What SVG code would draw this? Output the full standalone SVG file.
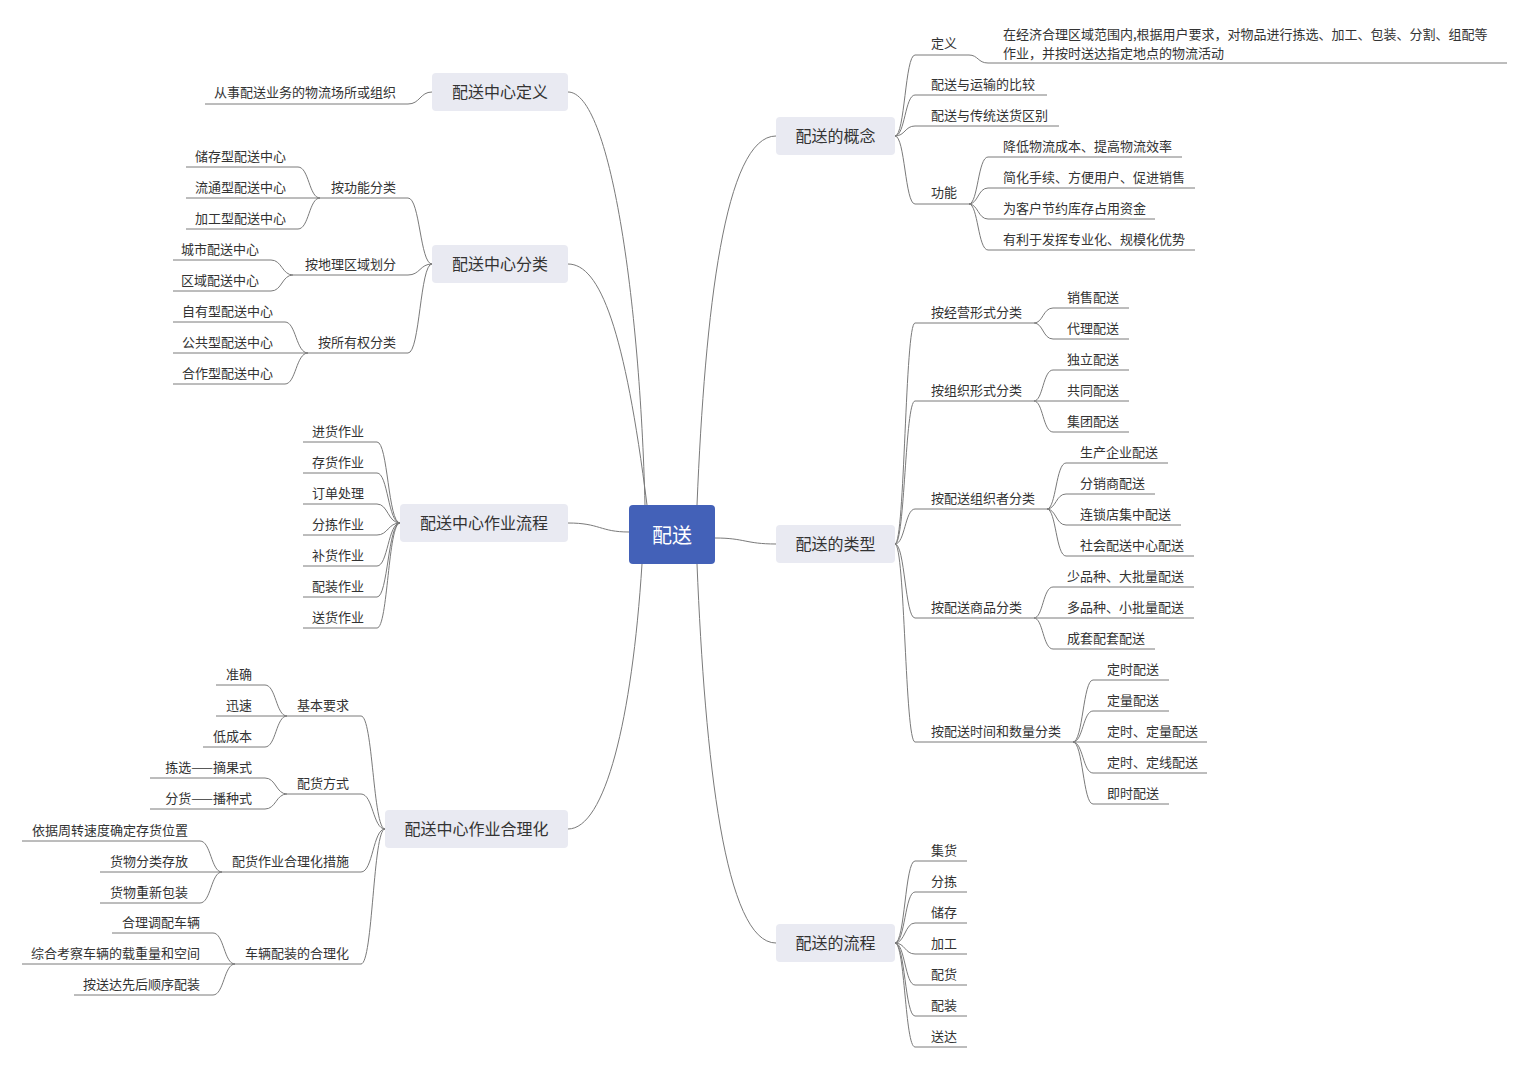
<svg xmlns="http://www.w3.org/2000/svg" width="1528" height="1069" viewBox="0 0 1528 1069">
<style>
text{font-family:"Noto Sans CJK SC","Noto Sans",sans-serif;fill:#333;dominant-baseline:central;transform:translateY(-1px)}
.t{font-size:13px}
.e{text-anchor:end}
.m{font-size:16px;text-anchor:middle}
.root{font-size:20px;text-anchor:middle;fill:#fff}
.box{fill:#E9EAF2}
.ul,.c path{fill:none;stroke:#7a7a7a;stroke-width:1}
</style>
<rect width="1528" height="1069" fill="#fff"/>
<g id="connectors" class="c">
<path d="M645,505 C640,300 610,92 568,92"/>
<path d="M647,505 C625,330 600,264 568,264"/>
<path d="M629,532 C600,532 600,523 568,523"/>
<path d="M642,564 C632,720 605,829 568,829"/>
<path d="M697,505 C705,310 725,136 776,136"/>
<path d="M715,538 C745,538 745,544 776,544"/>
<path d="M697,564 C705,760 725,943 776,943"/>
<path d="M895,136 C905,136 905,55 915,55"/>
<path d="M895,136 C905,136 905,95 915,95"/>
<path d="M895,136 C905,136 905,126 915,126"/>
<path d="M895,136 C905,136 905,204 915,204"/>
<path d="M969,55 C978,55 978,63 988,63"/>
<path d="M969,204 C978,204 978,157 988,157"/>
<path d="M969,204 C978,204 978,188 988,188"/>
<path d="M969,204 C978,204 978,219 988,219"/>
<path d="M969,204 C978,204 978,250 988,250"/>
<path d="M895,544 C905,544 905,323 915,323"/>
<path d="M895,544 C905,544 905,401 915,401"/>
<path d="M895,544 C905,544 905,509 915,509"/>
<path d="M895,544 C905,544 905,618 915,618"/>
<path d="M895,544 C905,544 905,742 915,742"/>
<path d="M1034,323 C1043,323 1043,308 1053,308"/>
<path d="M1034,323 C1043,323 1043,339 1053,339"/>
<path d="M1034,401 C1043,401 1043,370 1053,370"/>
<path d="M1034,401 L1053,401"/>
<path d="M1034,401 C1043,401 1043,432 1053,432"/>
<path d="M1047,509 C1056,509 1056,463 1066,463"/>
<path d="M1047,509 C1056,509 1056,494 1066,494"/>
<path d="M1047,509 C1056,509 1056,525 1066,525"/>
<path d="M1047,509 C1056,509 1056,556 1066,556"/>
<path d="M1034,618 C1043,618 1043,587 1053,587"/>
<path d="M1034,618 L1053,618"/>
<path d="M1034,618 C1043,618 1043,649 1053,649"/>
<path d="M1073,742 C1083,742 1083,680 1093,680"/>
<path d="M1073,742 C1083,742 1083,711 1093,711"/>
<path d="M1073,742 L1093,742"/>
<path d="M1073,742 C1083,742 1083,773 1093,773"/>
<path d="M1073,742 C1083,742 1083,804 1093,804"/>
<path d="M895,943 C905,943 905,861 915,861"/>
<path d="M895,943 C905,943 905,892 915,892"/>
<path d="M895,943 C905,943 905,923 915,923"/>
<path d="M895,943 C905,943 905,954 915,954"/>
<path d="M895,943 C905,943 905,985 915,985"/>
<path d="M895,943 C905,943 905,1016 915,1016"/>
<path d="M895,943 C905,943 905,1047 915,1047"/>
<path d="M432,92 C420,92 420,104 408,104"/>
<path d="M432,264 C420,264 420,198 408,198"/>
<path d="M432,264 C420,264 420,275 408,275"/>
<path d="M432,264 C420,264 420,353 408,353"/>
<path d="M320,198 C309,198 309,167 298,167"/>
<path d="M320,198 L298,198"/>
<path d="M320,198 C309,198 309,229 298,229"/>
<path d="M293,275 C282,275 282,260 271,260"/>
<path d="M293,275 C282,275 282,291 271,291"/>
<path d="M308,353 C296,353 296,322 285,322"/>
<path d="M308,353 L285,353"/>
<path d="M308,353 C296,353 296,384 285,384"/>
<path d="M400,523 C388,523 388,442 377,442"/>
<path d="M400,523 C388,523 388,473 377,473"/>
<path d="M400,523 C388,523 388,504 377,504"/>
<path d="M400,523 C388,523 388,535 377,535"/>
<path d="M400,523 C388,523 388,566 377,566"/>
<path d="M400,523 C388,523 388,597 377,597"/>
<path d="M400,523 C388,523 388,628 377,628"/>
<path d="M385,829 C373,829 373,716 361,716"/>
<path d="M385,829 C373,829 373,794 361,794"/>
<path d="M385,829 C373,829 373,872 361,872"/>
<path d="M385,829 C373,829 373,964 361,964"/>
<path d="M287,716 C276,716 276,685 265,685"/>
<path d="M287,716 L265,716"/>
<path d="M287,716 C276,716 276,747 265,747"/>
<path d="M287,794 C276,794 276,778 265,778"/>
<path d="M287,794 C276,794 276,809 265,809"/>
<path d="M222,872 C211,872 211,841 200,841"/>
<path d="M222,872 L200,872"/>
<path d="M222,872 C211,872 211,903 200,903"/>
<path d="M235,964 C224,964 224,933 213,933"/>
<path d="M235,964 L213,964"/>
<path d="M235,964 C224,964 224,995 213,995"/>
</g>

<g id="root"><rect x="629" y="505" width="86" height="59" rx="4" fill="#4361B8"/><text class="root" x="672" y="535">配送</text></g>

<g id="n-gainian"><rect class="box" x="776" y="117" width="119" height="38" rx="4"/><text class="m" x="835.5" y="136">配送的概念</text></g>
<g id="n-dingyi"><path class="ul" d="M915,55H969"/><text class="t" x="931" y="43">定义</text></g>
<g id="n-dingyi-text"><path class="ul" d="M988,63H1507"/><text class="t" x="1003" y="34">在经济合理区域范围内,根据用户要求，对物品进行拣选、加工、包装、分割、组配等</text><text class="t" x="1003" y="53">作业，并按时送达指定地点的物流活动</text></g>
<g id="n-bijiao"><path class="ul" d="M915,95H1047"/><text class="t" x="931" y="84">配送与运输的比较</text></g>
<g id="n-qubie"><path class="ul" d="M915,126H1059"/><text class="t" x="931" y="115">配送与传统送货区别</text></g>
<g id="n-gongneng"><path class="ul" d="M915,204H969"/><text class="t" x="931" y="192">功能</text></g>
<g id="n-gn1"><path class="ul" d="M988,157H1182"/><text class="t" x="1003" y="146">降低物流成本、提高物流效率</text></g>
<g id="n-gn2"><path class="ul" d="M988,188H1195"/><text class="t" x="1003" y="177">简化手续、方便用户、促进销售</text></g>
<g id="n-gn3"><path class="ul" d="M988,219H1155"/><text class="t" x="1003" y="208">为客户节约库存占用资金</text></g>
<g id="n-gn4"><path class="ul" d="M988,250H1195"/><text class="t" x="1003" y="239">有利于发挥专业化、规模化优势</text></g>

<g id="n-leixing"><rect class="box" x="776" y="525" width="119" height="38" rx="4"/><text class="m" x="835.5" y="544">配送的类型</text></g>
<g id="n-jingying"><path class="ul" d="M915,323H1034"/><text class="t" x="931" y="312">按经营形式分类</text></g>
<g id="n-xiaoshou"><path class="ul" d="M1053,308H1129"/><text class="t" x="1067" y="297">销售配送</text></g>
<g id="n-daili"><path class="ul" d="M1053,339H1129"/><text class="t" x="1067" y="328">代理配送</text></g>
<g id="n-zuzhi"><path class="ul" d="M915,401H1034"/><text class="t" x="931" y="390">按组织形式分类</text></g>
<g id="n-duli"><path class="ul" d="M1053,370H1129"/><text class="t" x="1067" y="359">独立配送</text></g>
<g id="n-gongtong"><path class="ul" d="M1053,401H1129"/><text class="t" x="1067" y="390">共同配送</text></g>
<g id="n-jituan"><path class="ul" d="M1053,432H1129"/><text class="t" x="1067" y="421">集团配送</text></g>
<g id="n-zuzhizhe"><path class="ul" d="M915,509H1047"/><text class="t" x="931" y="498">按配送组织者分类</text></g>
<g id="n-shengchan"><path class="ul" d="M1066,463H1168"/><text class="t" x="1080" y="452">生产企业配送</text></g>
<g id="n-fenxiao"><path class="ul" d="M1066,494H1155"/><text class="t" x="1080" y="483">分销商配送</text></g>
<g id="n-liansuo"><path class="ul" d="M1066,525H1181"/><text class="t" x="1080" y="514">连锁店集中配送</text></g>
<g id="n-shehui"><path class="ul" d="M1066,556H1194"/><text class="t" x="1080" y="545">社会配送中心配送</text></g>
<g id="n-shangpin"><path class="ul" d="M915,618H1034"/><text class="t" x="931" y="607">按配送商品分类</text></g>
<g id="n-shao"><path class="ul" d="M1053,587H1194"/><text class="t" x="1067" y="576">少品种、大批量配送</text></g>
<g id="n-duo"><path class="ul" d="M1053,618H1194"/><text class="t" x="1067" y="607">多品种、小批量配送</text></g>
<g id="n-chengtao"><path class="ul" d="M1053,649H1155"/><text class="t" x="1067" y="638">成套配套配送</text></g>
<g id="n-shijian"><path class="ul" d="M915,742H1073"/><text class="t" x="931" y="731">按配送时间和数量分类</text></g>
<g id="n-dingshi"><path class="ul" d="M1093,680H1169"/><text class="t" x="1107" y="669">定时配送</text></g>
<g id="n-dingliang"><path class="ul" d="M1093,711H1169"/><text class="t" x="1107" y="700">定量配送</text></g>
<g id="n-dsdl"><path class="ul" d="M1093,742H1207"/><text class="t" x="1107" y="731">定时、定量配送</text></g>
<g id="n-dsdx"><path class="ul" d="M1093,773H1207"/><text class="t" x="1107" y="762">定时、定线配送</text></g>
<g id="n-jishi"><path class="ul" d="M1093,804H1169"/><text class="t" x="1107" y="793">即时配送</text></g>

<g id="n-liucheng"><rect class="box" x="776" y="924" width="119" height="38" rx="4"/><text class="m" x="835.5" y="943">配送的流程</text></g>
<g id="n-jihuo"><path class="ul" d="M915,861H967"/><text class="t" x="931" y="850">集货</text></g>
<g id="n-fenjian"><path class="ul" d="M915,892H967"/><text class="t" x="931" y="881">分拣</text></g>
<g id="n-chucun"><path class="ul" d="M915,923H967"/><text class="t" x="931" y="912">储存</text></g>
<g id="n-jiagong"><path class="ul" d="M915,954H967"/><text class="t" x="931" y="943">加工</text></g>
<g id="n-peihuo"><path class="ul" d="M915,985H967"/><text class="t" x="931" y="974">配货</text></g>
<g id="n-peizhuang"><path class="ul" d="M915,1016H967"/><text class="t" x="931" y="1005">配装</text></g>
<g id="n-songda"><path class="ul" d="M915,1047H967"/><text class="t" x="931" y="1036">送达</text></g>

<g id="n-zx-dingyi"><rect class="box" x="432" y="73" width="136" height="38" rx="4"/><text class="m" x="500" y="92">配送中心定义</text></g>
<g id="n-congshi"><path class="ul" d="M205,104H408"/><text class="t e" x="396" y="92">从事配送业务的物流场所或组织</text></g>

<g id="n-zx-fenlei"><rect class="box" x="432" y="245" width="136" height="38" rx="4"/><text class="m" x="500" y="264">配送中心分类</text></g>
<g id="n-gnfl"><path class="ul" d="M320,198H408"/><text class="t e" x="396" y="187">按功能分类</text></g>
<g id="n-chucunxing"><path class="ul" d="M186,167H298"/><text class="t e" x="286" y="156">储存型配送中心</text></g>
<g id="n-liutong"><path class="ul" d="M186,198H298"/><text class="t e" x="286" y="187">流通型配送中心</text></g>
<g id="n-jiagongxing"><path class="ul" d="M186,229H298"/><text class="t e" x="286" y="218">加工型配送中心</text></g>
<g id="n-dili"><path class="ul" d="M293,275H408"/><text class="t e" x="396" y="264">按地理区域划分</text></g>
<g id="n-chengshi"><path class="ul" d="M173,260H271"/><text class="t e" x="259" y="249">城市配送中心</text></g>
<g id="n-quyu"><path class="ul" d="M173,291H271"/><text class="t e" x="259" y="280">区域配送中心</text></g>
<g id="n-suoyouquan"><path class="ul" d="M308,353H408"/><text class="t e" x="396" y="342">按所有权分类</text></g>
<g id="n-ziyou"><path class="ul" d="M173,322H285"/><text class="t e" x="273" y="311">自有型配送中心</text></g>
<g id="n-gonggong"><path class="ul" d="M173,353H285"/><text class="t e" x="273" y="342">公共型配送中心</text></g>
<g id="n-hezuo"><path class="ul" d="M173,384H285"/><text class="t e" x="273" y="373">合作型配送中心</text></g>

<g id="n-zx-liucheng"><rect class="box" x="400" y="504" width="168" height="38" rx="4"/><text class="m" x="484" y="523">配送中心作业流程</text></g>
<g id="n-jinhuo"><path class="ul" d="M303,442H377"/><text class="t e" x="364" y="431">进货作业</text></g>
<g id="n-cunhuo"><path class="ul" d="M303,473H377"/><text class="t e" x="364" y="462">存货作业</text></g>
<g id="n-dingdan"><path class="ul" d="M303,504H377"/><text class="t e" x="364" y="493">订单处理</text></g>
<g id="n-fenjianzy"><path class="ul" d="M303,535H377"/><text class="t e" x="364" y="524">分拣作业</text></g>
<g id="n-buhuo"><path class="ul" d="M303,566H377"/><text class="t e" x="364" y="555">补货作业</text></g>
<g id="n-peizhuangzy"><path class="ul" d="M303,597H377"/><text class="t e" x="364" y="586">配装作业</text></g>
<g id="n-songhuo"><path class="ul" d="M303,628H377"/><text class="t e" x="364" y="617">送货作业</text></g>

<g id="n-zx-helihua"><rect class="box" x="385" y="810" width="183" height="38" rx="4"/><text class="m" x="476.5" y="829">配送中心作业合理化</text></g>
<g id="n-jiben"><path class="ul" d="M287,716H361"/><text class="t e" x="349" y="705">基本要求</text></g>
<g id="n-zhunque"><path class="ul" d="M216,685H265"/><text class="t e" x="252" y="674">准确</text></g>
<g id="n-xunsu"><path class="ul" d="M216,716H265"/><text class="t e" x="252" y="705">迅速</text></g>
<g id="n-dichengben"><path class="ul" d="M203,747H265"/><text class="t e" x="252" y="736">低成本</text></g>
<g id="n-fangshi"><path class="ul" d="M287,794H361"/><text class="t e" x="349" y="783">配货方式</text></g>
<g id="n-zhaiguo"><path class="ul" d="M150,778H265"/><text class="t e" x="252" y="767">拣选——摘果式</text></g>
<g id="n-bozhong"><path class="ul" d="M150,809H265"/><text class="t e" x="252" y="798">分货——播种式</text></g>
<g id="n-cuoshi"><path class="ul" d="M222,872H361"/><text class="t e" x="349" y="861">配货作业合理化措施</text></g>
<g id="n-yiju"><path class="ul" d="M22,841H200"/><text class="t e" x="188" y="830">依据周转速度确定存货位置</text></g>
<g id="n-fenlei2"><path class="ul" d="M100,872H200"/><text class="t e" x="188" y="861">货物分类存放</text></g>
<g id="n-baozhuang"><path class="ul" d="M100,903H200"/><text class="t e" x="188" y="892">货物重新包装</text></g>
<g id="n-cheliang"><path class="ul" d="M235,964H361"/><text class="t e" x="349" y="953">车辆配装的合理化</text></g>
<g id="n-tiaopei"><path class="ul" d="M112,933H213"/><text class="t e" x="200" y="922">合理调配车辆</text></g>
<g id="n-zonghe"><path class="ul" d="M22,964H213"/><text class="t e" x="200" y="953">综合考察车辆的载重量和空间</text></g>
<g id="n-shunxu"><path class="ul" d="M74,995H213"/><text class="t e" x="200" y="984">按送达先后顺序配装</text></g>
</svg>
